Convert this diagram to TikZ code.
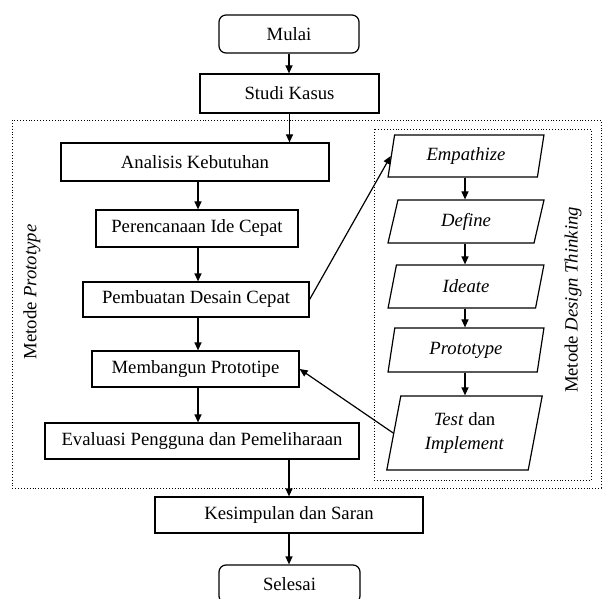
\documentclass[tikz,border=0pt]{standalone}
\usepackage{fontspec}
\setmainfont{Liberation Serif}
\usepackage{tikz}
\usetikzlibrary{positioning, shapes, shapes.geometric, arrows.meta, calc}

\begin{document}
\begin{tikzpicture}[x=1pt, y=-1pt,
    every node/.style={font=\fontsize{18.7}{24}\selectfont},
    box/.style={draw, line width=1.2pt, rectangle, inner sep=0pt},
    terminal/.style={box, rounded corners=7pt},
    para/.style={draw, line width=1.2pt, trapezium, trapezium left angle=78, trapezium right angle=102, trapezium stretches=true, inner sep=0pt, minimum width=156pt, align=center},
    arr/.style={-{Triangle[length=8pt, width=7pt]}, line width=1.2pt},
    frame/.style={dotted, line width=0.9pt}]
      \useasboundingbox (0,0) rectangle (603,599);

      % Frames
      \draw[frame] (12,120) rectangle (601,488);
      \draw[frame] (374,129) rectangle (591,480);

      % Main column
      \node[terminal, minimum width=140pt, minimum height=38pt] (mulai) at (289,34) {Mulai};
      \node[box, minimum width=179pt, minimum height=39pt] (studi) at (289.5,93.5) {Studi Kasus};

      % Metode Prototype
      \node[box, minimum width=268pt, minimum height=38pt] (analisis) at (195,162) {Analisis Kebutuhan};
      \node[box, minimum width=202pt, minimum height=37pt] (rencana) at (197,228.5) {Perencanaan Ide Cepat};
      \node[box, minimum width=226pt, minimum height=35pt] (desain) at (196,299.5) {Pembuatan Desain Cepat};
      \node[box, minimum width=207pt, minimum height=36pt] (bangun) at (195.5,369) {Membangun Prototipe};
      \node[box, minimum width=314pt, minimum height=36pt] (evaluasi) at (202,441) {Evaluasi Pengguna dan Pemeliharaan};

      % Metode Design Thinking
      \node[para, minimum height=42pt] (empathize) at (466,156) {\textit{Empathize}};
      \node[para, minimum height=43pt] (define) at (466,221.5) {\textit{Define}};
      \node[para, minimum height=43pt] (ideate) at (466,286.5) {\textit{Ideate}};
      \node[para, minimum height=44pt] (prototype) at (466,350) {\textit{Prototype}};
      \node[para, minimum height=74pt] (test) at (464.5,433) {\textit{Test} dan\\\textit{Implement}};

      % End
      \node[box, minimum width=268pt, minimum height=36pt] (simpulan) at (289,515) {Kesimpulan dan Saran};
      \node[terminal, minimum width=141pt, minimum height=38pt] (selesai) at (289.5,584) {Selesai};

      % Labels
      \node[rotate=90] (lblproto) at (32,292) {Metode \textit{Prototype}};
      \node[rotate=90] (lbldt) at (573,300) {Metode \textit{Design Thinking}};

      % Arrows
      \draw[arr] (mulai.south) -- (mulai.south |- studi.north);
      \draw[arr] (studi.south) -- (studi.south |- analisis.north);
      \draw[arr] (analisis.south -| 198,0) -- (rencana.north -| 198,0);
      \draw[arr] (rencana.south -| 198,0) -- (desain.north -| 198,0);
      \draw[arr] (desain.south -| 198,0) -- (bangun.north -| 198,0);
      \draw[arr] (bangun.south -| 198,0) -- (evaluasi.north -| 198,0);
      \draw[arr] (evaluasi.south -| simpulan.north) -- (simpulan.north);
      \draw[arr] (simpulan.south) -- (simpulan.south |- selesai.north);
      \draw[arr] (empathize.south -| 465,0) -- (define.north -| 465,0);
      \draw[arr] (define.south -| 465,0) -- (ideate.north -| 465,0);
      \draw[arr] (ideate.south -| 465,0) -- (prototype.north -| 465,0);
      \draw[arr] (prototype.south -| 465,0) -- (test.north -| 465,0);
      \draw[arr] (desain.east) -- (empathize.west);
      \draw[arr] (test.west) -- (bangun.east);
    \end{tikzpicture}
\end{document}
